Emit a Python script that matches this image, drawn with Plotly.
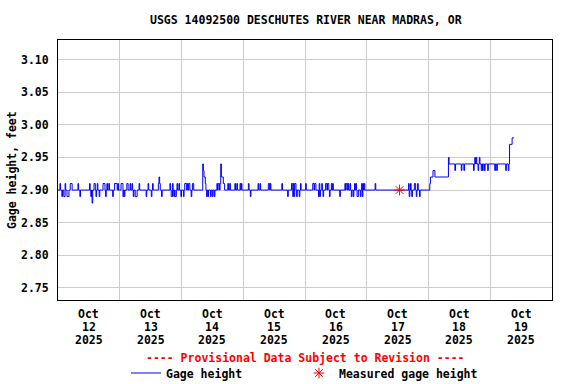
import pandas as pd
import plotly.graph_objects as go

# ---------------- data ----------------
start = pd.Timestamp("2025-10-12 00:00")

# Sustained gage-height levels: hour from Oct 12 00:00, feet
level_start_h = [0, 144.5, 144.75, 145.75, 146.5, 151.75, 152.0, 175.5, 176.5]
level_ft = [2.90, 2.91, 2.92, 2.93, 2.92, 2.95, 2.94, 2.97, 2.98]
end_h = 177.25

# Short excursions from the sustained level: start hour, duration (h), feet
exc_start_h = [
    0.75, 1.5, 2.25, 2.75, 3.5, 4.75, 7.75, 8.5, 12.25, 12.75, 13.25, 14.0, 14.75,
    15.25, 16.0, 17.5, 18.5, 19.0, 19.75, 21.25, 22.0, 23.25,
    24.5, 25.25, 25.75, 26.75, 28.0, 28.75, 29.25, 30.0, 31.5, 34.25, 35.0, 36.25,
    36.75, 39.0, 39.25, 39.5, 40.25, 43.5, 44.0, 44.5, 45.0, 45.5, 46.25, 47.0, 47.75,
    48.75, 49.25, 50.25, 50.75, 51.75, 52.25, 56.25, 56.5, 56.75, 57.25, 57.75, 58.25,
    59.25, 60.0, 60.75, 61.75, 62.25, 63.0, 63.25, 63.5, 64.25, 66.0, 66.75, 68.75,
    69.5, 70.75, 71.25,
    74.0, 74.75, 77.75, 78.5, 81.75, 82.5, 87.0, 89.25, 90.75, 91.25, 91.5, 91.75,
    92.0, 92.75, 93.75, 94.25,
    96.25, 99.0, 99.75, 101.25, 101.5, 101.75, 102.5, 103.0, 104.0, 104.75, 105.5,
    106.25, 106.75, 109.5, 111.5, 112.0, 112.75, 113.5, 114.0, 114.75, 115.25, 115.75,
    116.25, 117.5, 118.0, 118.25, 118.5, 119.0,
    123.25, 136.25, 136.5, 137.0, 137.5, 138.5, 139.25, 139.75, 140.5,
    154.25, 156.75, 157.75, 161.5, 162.0, 162.5, 163.25, 163.75, 164.5, 165.0, 165.75,
    167.0, 169.75, 170.5, 174.0, 175.0,
]
exc_dur_h = [
    .25, .25, .5, .25, .75, .75, .25, .25, .25, .25, .25, .5, .25,
    .25, .25, .75, .25, .25, .25, .25, 1.0, .25,
    .75, .25, .25, .5, .25, .25, .25, .75, .25, .25, .25, .25,
    .25, .25, .25, .25, .25, .25, .5, .25, .25, .5, .25, .25, .25,
    .25, .75, .25, .5, .25, .5, .25, .25, .5, .25, .25, .25,
    .25, .25, .25, .25, .5, .25, .25, .75, .5, .25, .25, .25,
    .25, .25, .25,
    .25, .25, .25, .25, .5, .25, .25, .25, .5, .25, .25, .25,
    .5, .25, .25, .25,
    .25, .5, .5, .25, .25, .25, .25, .25, .5, .5, .25,
    .25, .25, .25, .25, .5, .25, .25, .25, .25, .25, .25,
    .5, .25, .25, .25, .25, .25,
    .25, .25, .25, .25, .25, .5, .25, .25, .25,
    .25, .25, .25, .25, .25, .25, .25, .25, .25, .25, .25,
    .25, .25, .25, .25, .25,
]
exc_ft = [
    2.91, 2.89, 2.89, 2.91, 2.89, 2.91, 2.91, 2.89, 2.91, 2.89, 2.88, 2.91, 2.89,
    2.91, 2.89, 2.91, 2.89, 2.91, 2.91, 2.89, 2.91, 2.91,
    2.91, 2.89, 2.89, 2.91, 2.91, 2.91, 2.89, 2.89, 2.91, 2.89, 2.91, 2.89,
    2.91, 2.91, 2.92, 2.91, 2.89, 2.91, 2.89, 2.91, 2.89, 2.89, 2.91, 2.91, 2.89,
    2.89, 2.91, 2.91, 2.91, 2.89, 2.91, 2.94, 2.93, 2.92, 2.91, 2.89, 2.89,
    2.89, 2.89, 2.89, 2.91, 2.91, 2.91, 2.94, 2.92, 2.91, 2.91, 2.91, 2.91,
    2.91, 2.91, 2.91,
    2.91, 2.89, 2.91, 2.91, 2.91, 2.91, 2.91, 2.89, 2.91, 2.89, 2.91, 2.89,
    2.91, 2.89, 2.89, 2.91,
    2.91, 2.91, 2.91, 2.89, 2.91, 2.89, 2.91, 2.89, 2.91, 2.91, 2.89,
    2.91, 2.91, 2.89, 2.91, 2.91, 2.91, 2.91, 2.89, 2.89, 2.91, 2.91,
    2.89, 2.89, 2.91, 2.89, 2.91, 2.91,
    2.91, 2.91, 2.89, 2.91, 2.89, 2.91, 2.89, 2.91, 2.89,
    2.93, 2.93, 2.93, 2.93, 2.95, 2.95, 2.93, 2.95, 2.93, 2.93, 2.93,
    2.93, 2.93, 2.93, 2.93, 2.93,
]

measured_h = [132.75]
measured_ft = [2.90]

day_month = ["Oct"] * 8
day_num = ["12", "13", "14", "15", "16", "17", "18", "19"]
day_year = ["2025"] * 8
y_ticks = [2.75, 2.80, 2.85, 2.90, 2.95, 3.00, 3.05, 3.10]

# ---------------- build step series ----------------
def level_at(h):
    v = level_ft[0]
    for s, f in zip(level_start_h, level_ft):
        if s <= h + 1e-9:
            v = f
    return v

points = {}
for s, f in zip(level_start_h, level_ft):
    points[round(s, 3)] = f
for s, d in zip(exc_start_h, exc_dur_h):
    e = round(s + d, 3)
    points[e] = level_at(e)
for s, f in zip(exc_start_h, exc_ft):
    points[round(s, 3)] = f
points[round(end_h, 3)] = level_at(end_h)

hours = sorted(points)
x_times = [start + pd.Timedelta(hours=h) for h in hours]
y_vals = [points[h] for h in hours]
meas_times = [start + pd.Timedelta(hours=h) for h in measured_h]

FONT = "DejaVu Sans Mono"
fs = 11.5
PLOT_H = 260.0  # plot-area height in px (384 - 40 - 84)

def bold(color="black"):
    return dict(family=FONT, size=fs, color=color, weight="bold")

fig = go.Figure()
fig.add_trace(go.Scatter(
    x=x_times, y=y_vals, mode="lines", line=dict(color="#0000ff", width=1, shape="hv"),
    name="Gage height", legend="legend",
))
fig.add_trace(go.Scatter(
    x=meas_times, y=measured_ft, mode="markers",
    marker=dict(symbol="asterisk-open", size=9, color="red", line=dict(color="red", width=1)),
    name="Measured gage height", legend="legend2",
))

noon_ticks = [start + pd.Timedelta(hours=12 + 24 * i) for i in range(len(day_num))]

fig.update_layout(
    width=576, height=384,
    margin=dict(l=58, r=24, t=40, b=84, autoexpand=False),
    paper_bgcolor="white", plot_bgcolor="white",
    font=bold(),
    showlegend=True,
    legend=dict(orientation="h", x=(126 - 58) / 494, xanchor="left",
                y=(300 - 373) / PLOT_H, yanchor="middle", font=bold(),
                bgcolor="rgba(0,0,0,0)", borderwidth=0),
    legend2=dict(orientation="h", x=(299 - 58) / 494, xanchor="left",
                 y=(300 - 373) / PLOT_H, yanchor="middle", font=bold(),
                 bgcolor="rgba(0,0,0,0)", borderwidth=0),
)

fig.update_xaxes(
    type="date",
    range=[start, start + pd.Timedelta(days=8)],
    tickmode="array", tickvals=noon_ticks, showticklabels=False,
    ticks="", showgrid=False, automargin=False,
    minor=dict(tick0=start, dtick=86400000, showgrid=True, gridcolor="#cccccc", gridwidth=1, ticks=""),
    showline=True, linecolor="black", linewidth=1, mirror=True, zeroline=False,
)
fig.update_yaxes(
    range=[2.7315, 3.130],
    tickmode="array", tickvals=y_ticks, tickformat=".2f",
    ticks="", showgrid=True, gridcolor="#cccccc", gridwidth=1, automargin=False,
    showline=True, linecolor="black", linewidth=1, mirror=True,
    zeroline=False, ticklabelstandoff=6, tickfont=bold(),
)

# x tick labels, three rows centred on each day's noon
for rows, ypx in ((day_month, 314), (day_num, 327), (day_year, 340)):
    for t, txt in zip(noon_ticks, rows):
        fig.add_annotation(text=txt, xref="x", yref="paper", x=t,
                           y=(300 - ypx) / PLOT_H, xanchor="center", yanchor="middle",
                           showarrow=False, font=bold())

fig.add_annotation(text="USGS 14092500 DESCHUTES RIVER NEAR MADRAS, OR",
                   xref="paper", yref="paper", x=(306 - 58) / 494, y=(300 - 20) / PLOT_H,
                   xanchor="center", yanchor="middle", showarrow=False, font=bold())
fig.add_annotation(text="Gage height, feet", textangle=-90,
                   xref="paper", yref="paper", x=(12 - 58) / 494, y=0.5,
                   xanchor="center", yanchor="middle", showarrow=False, font=bold())
fig.add_annotation(text="---- Provisional Data Subject to Revision ----",
                   xref="paper", yref="paper", x=(305 - 58) / 494, y=(300 - 358) / PLOT_H,
                   xanchor="center", yanchor="middle", showarrow=False, font=bold("red"))

fig.write_html("out.html", config={"displayModeBar": False},
               post_script="document.body.style.margin='0';")
